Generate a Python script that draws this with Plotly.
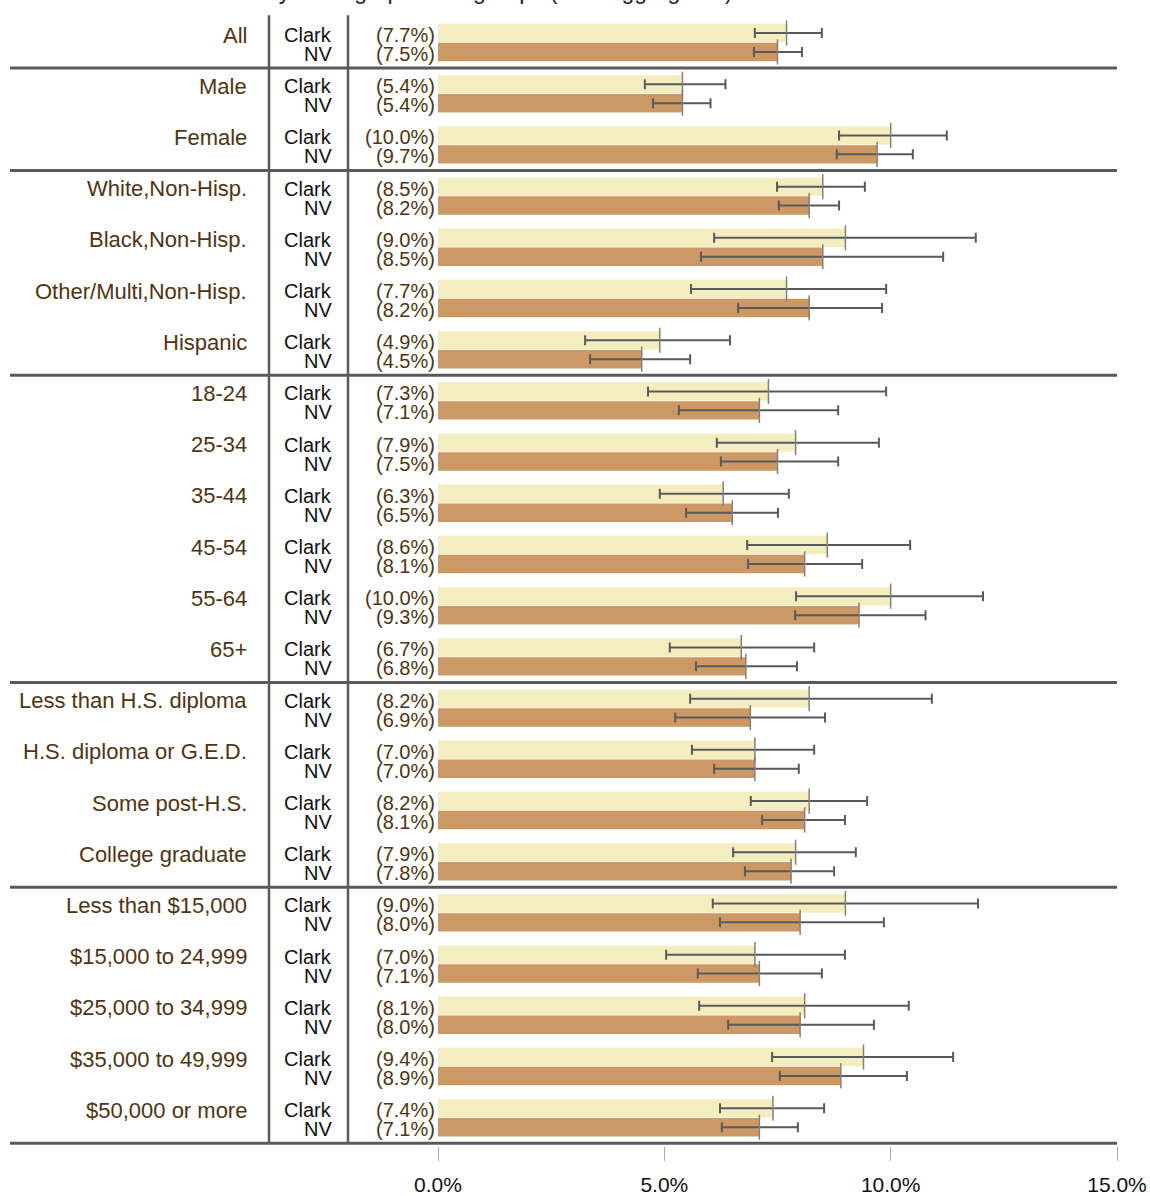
import plotly.graph_objects as go

# ---------------- data ----------------
groups = ["All", "Male", "Female", "White,Non-Hisp.", "Black,Non-Hisp.",
          "Other/Multi,Non-Hisp.", "Hispanic", "18-24", "25-34", "35-44", "45-54",
          "55-64", "65+", "Less than H.S. diploma", "H.S. diploma or G.E.D.",
          "Some post-H.S.", "College graduate", "Less than $15,000",
          "$15,000 to 24,999", "$25,000 to 34,999", "$35,000 to 49,999",
          "$50,000 or more"]
section_last = [0, 2, 6, 12, 16, 21]   # index of last group in each section

series_names = ["Clark", "NV"]
clark = [7.7, 5.4, 10.0, 8.5, 9.0, 7.7, 4.9, 7.3, 7.9, 6.3, 8.6, 10.0, 6.7,
         8.2, 7.0, 8.2, 7.9, 9.0, 7.0, 8.1, 9.4, 7.4]
nv = [7.5, 5.4, 9.7, 8.2, 8.5, 8.2, 4.5, 7.1, 7.5, 6.5, 8.1, 9.3, 6.8,
      6.9, 7.0, 8.1, 7.8, 8.0, 7.1, 8.0, 8.9, 7.1]
clark_lo = [7.0, 4.57, 8.86, 7.49, 6.1, 5.59, 3.25, 4.64, 6.16, 4.9, 6.83, 7.91, 5.12,
            5.57, 5.61, 6.91, 6.52, 6.07, 5.04, 5.77, 7.38, 6.23]
clark_hi = [8.48, 6.35, 11.24, 9.43, 11.88, 9.9, 6.45, 9.9, 9.74, 7.75, 10.43, 12.04, 8.31,
            10.91, 8.31, 9.48, 9.23, 11.93, 8.99, 10.4, 11.38, 8.53]
nv_lo = [6.98, 4.75, 8.81, 7.53, 5.81, 6.63, 3.36, 5.32, 6.25, 5.48, 6.85, 7.89, 5.7,
         5.24, 6.1, 7.16, 6.78, 6.23, 5.74, 6.41, 7.55, 6.27]
nv_hi = [8.04, 6.02, 10.49, 8.86, 11.16, 9.81, 5.57, 8.84, 8.84, 7.51, 9.37, 10.77, 7.93,
         8.55, 7.97, 8.99, 8.75, 9.85, 8.48, 9.63, 10.36, 7.95]
tick_vals = [0, 5, 10, 15]
tick_text = ["0.0%", "5.0%", "10.0%", "15.0%"]

# ---------------- layout constants ----------------
W, H = 1150, 1196
X0_PX, X15_PX = 438, 1117
PX_PER = (X15_PX - X0_PX) / 15.0
PLOT_H = 1146
ROW0_PX, ROW_PX = 42.5, 51.2
OFF = 0.185
BAR_W = 0.36

CLARK_C = "#F3EDC0"
NV_C = "#CC9966"
LINE_C = "#5a5a5a"
BROWN = "#4f3414"
FONT = "Liberation Sans, Arial, sans-serif"


def px2x(px):
    return (px - X0_PX) / PX_PER


idx = list(range(len(groups)))
y_clark = [i - OFF for i in idx]
y_nv = [i + OFF for i in idx]

fig = go.Figure()
for vals, lo, hi, ys, col, name in [(clark, clark_lo, clark_hi, y_clark, CLARK_C, "Clark"),
                                    (nv, nv_lo, nv_hi, y_nv, NV_C, "NV")]:
    fig.add_trace(go.Bar(
        x=vals, y=ys, orientation="h", width=BAR_W, name=name,
        marker=dict(color=col, line=dict(width=0)),
        error_x=dict(type="data", symmetric=False,
                     array=[h - v for h, v in zip(hi, vals)],
                     arrayminus=[v - l for v, l in zip(vals, lo)],
                     color=LINE_C, thickness=2, width=5),
        hoverinfo="skip",
    ))
    # end-of-bar tick
    fig.add_trace(go.Scatter(
        x=vals, y=ys, mode="markers",
        marker=dict(symbol="line-ns", size=18, line=dict(width=1.5, color="#808080")),
        hoverinfo="skip",
    ))

annotations = []
for i, g in enumerate(groups):
    annotations.append(dict(x=px2x(249), y=y_clark[i], xref="x", yref="y", text=g,
                            showarrow=False, xanchor="right", yanchor="middle", yshift=-2,
                            font=dict(family=FONT, size=22, color=BROWN)))
    for nm, yy in zip(series_names, [y_clark[i], y_nv[i]]):
        annotations.append(dict(x=px2x(334), y=yy, xref="x", yref="y", text=nm,
                                showarrow=False, xanchor="right", yanchor="middle", yshift=-2,
                                font=dict(family=FONT, size=20, color="#111111")))
    for v, yy in [(clark[i], y_clark[i]), (nv[i], y_nv[i])]:
        annotations.append(dict(x=0, y=yy, xref="x", yref="y", text=f"({v:.1f}%)",
                                showarrow=False, xanchor="right", yanchor="middle",
                                xshift=-1, yshift=-2,
                                font=dict(family=FONT, size=20, color=BROWN)))

# title (cut off at top of the page in the reference)
annotations.append(dict(x=264 / W, y=1, xref="paper", yref="paper",
                        text="by demographic subgroups (data aggregated)",
                        showarrow=False, xanchor="left", yanchor="bottom", yshift=-6,
                        font=dict(family=FONT, size=23, color="#222222")))

shapes = []
for s in section_last:
    shapes.append(dict(type="line", xref="x", yref="y", x0=px2x(10), x1=15,
                       y0=s + 0.5, y1=s + 0.5, line=dict(color=LINE_C, width=3)))
for vx in [269, 348]:
    shapes.append(dict(type="line", xref="x", yref="y", x0=px2x(vx), x1=px2x(vx),
                       y0=-0.53, y1=len(groups) - 0.5, line=dict(color=LINE_C, width=2.5)))

y_top = -ROW0_PX / ROW_PX
y_bot = (PLOT_H - ROW0_PX) / ROW_PX

fig.update_layout(
    width=W, height=H,
    margin=dict(l=0, r=0, t=0, b=H - PLOT_H, pad=0, autoexpand=False),
    barmode="overlay",
    showlegend=False,
    plot_bgcolor="white", paper_bgcolor="white",
    annotations=annotations, shapes=shapes,
    xaxis=dict(range=[px2x(0), px2x(W)], tickvals=tick_vals, ticktext=tick_text,
               showgrid=False, zeroline=False, showline=False, automargin=False,
               ticks="outside", ticklen=14, tickwidth=1, tickcolor="#aaaaaa",
               tickfont=dict(family=FONT, size=21, color="#111111"),
               ticklabelstandoff=6),
    yaxis=dict(range=[y_bot, y_top], visible=False, automargin=False),
    font=dict(family=FONT),
)

fig.write_html("out.html", config={"displayModeBar": False},
               post_script="document.body.style.margin='0px';")
